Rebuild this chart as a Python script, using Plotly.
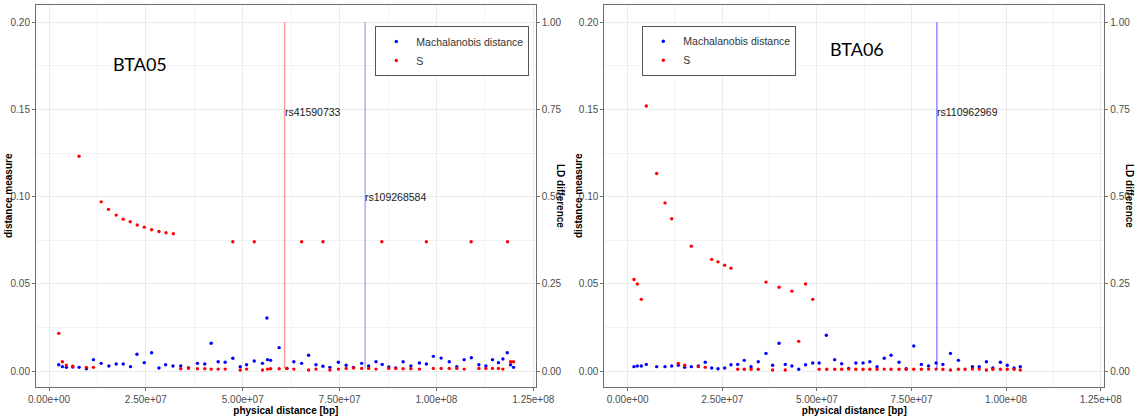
import plotly.graph_objects as go

# ---------------- DATA ----------------
# Panel BTA05
bta05_md_x = [2.51e6, 3.45e6, 4.48e6, 6.13e6, 7.76e6, 9.66e6, 11.47e6, 13.46e6, 15.45e6, 17.34e6,
              19.15e6, 21.04e6, 22.7e6, 24.59e6, 26.48e6, 28.38e6, 30.1e6, 32.0e6, 34.0e6, 36.0e6,
              38.3e6, 40.2e6, 41.85e6, 43.66e6, 45.47e6, 47.44e6, 49.35e6, 51.0e6, 52.97e6, 55.1e6,
              56.24e6, 56.4e6, 57.2e6, 59.4e6, 61.4e6, 63.2e6, 65.2e6, 67.0e6, 68.9e6, 70.7e6,
              72.5e6, 74.7e6, 76.7e6, 78.6e6, 80.7e6, 82.5e6, 84.4e6, 86.0e6, 87.7e6, 89.5e6,
              91.4e6, 93.4e6, 95.6e6, 97.4e6, 99.2e6, 101.2e6, 103.3e6, 105.25e6, 107.15e6, 109.0e6,
              110.95e6, 112.76e6, 114.47e6, 116.0e6, 117.16e6, 118.27e6, 119.13e6, 119.9e6]
bta05_md_y = [0.0036, 0.0025, 0.0021, 0.0023, 0.0021, 0.0013, 0.0065, 0.0044, 0.0029, 0.0040,
              0.0040, 0.0025, 0.0096, 0.0048, 0.0105, 0.0017, 0.0036, 0.0029, 0.0029, 0.0017,
              0.0044, 0.0040, 0.0159, 0.0053, 0.0050, 0.0073, 0.0025, 0.0036, 0.0057, 0.0044,
              0.0304, 0.0065, 0.0061, 0.0134, 0.0015, 0.0053, 0.0044, 0.0090, 0.0036, 0.0027,
              0.0021, 0.0050, 0.0033, 0.0021, 0.0044, 0.0029, 0.0053, 0.0038, 0.0023, 0.0017,
              0.0053, 0.0029, 0.0046, 0.0040, 0.0084, 0.0074, 0.0053, 0.0025, 0.0065, 0.0076,
              0.0036, 0.0029, 0.0065, 0.0048, 0.0069, 0.0105, 0.0036, 0.0021]

bta05_s_x = [2.51e6, 3.45e6, 4.48e6, 6.13e6, 7.76e6, 9.66e6, 11.47e6, 13.46e6, 15.35e6, 17.34e6,
             19.15e6, 20.96e6, 22.77e6, 24.59e6, 26.48e6, 28.38e6, 30.2e6, 32.09e6, 34.0e6, 36.0e6,
             38.3e6, 40.2e6, 41.85e6, 43.66e6, 45.47e6, 47.44e6, 49.35e6, 51.0e6, 52.97e6, 55.1e6,
             56.4e6, 57.2e6, 59.4e6, 61.4e6, 63.2e6, 65.2e6, 67.0e6, 68.9e6, 70.7e6, 72.5e6,
             74.7e6, 76.7e6, 78.6e6, 80.7e6, 82.5e6, 84.4e6, 85.9e6, 87.7e6, 89.5e6, 91.4e6,
             93.4e6, 95.6e6, 97.4e6, 99.2e6, 101.2e6, 103.3e6, 105.25e6, 107.15e6, 108.95e6, 110.95e6,
             112.76e6, 114.47e6, 116.0e6, 117.16e6, 118.35e6, 119.13e6, 119.9e6]
bta05_s_y = [0.0216, 0.0053, 0.0034, 0.0027, 0.1232, 0.0021, 0.0021, 0.0970, 0.0927, 0.0894,
             0.0871, 0.0856, 0.0837, 0.0825, 0.0810, 0.0800, 0.0793, 0.0787, 0.0013, 0.0017,
             0.0013, 0.0013, 0.0011, 0.0011, 0.0011, 0.0741, 0.0006, 0.0011, 0.0741, 0.0006,
             0.0011, 0.0013, 0.0013, 0.0015, 0.0011, 0.0741, 0.0006, 0.0011, 0.0741, 0.0006,
             0.0011, 0.0015, 0.0017, 0.0015, 0.0015, 0.0011, 0.0741, 0.0015, 0.0015, 0.0013,
             0.0013, 0.0011, 0.0741, 0.0015, 0.0015, 0.0015, 0.0015, 0.0011, 0.0741, 0.0015,
             0.0015, 0.0015, 0.0015, 0.0011, 0.0741, 0.0053, 0.0053]

# Panel BTA06
bta06_md_x = [1.66e6, 2.54e6, 3.6e6, 4.92e6, 7.66e6, 9.86e6, 11.63e6, 13.37e6, 15.06e6, 16.81e6,
              18.66e6, 20.5e6, 22.2e6, 23.86e6, 25.63e6, 27.3e6, 29.07e6, 30.8e6, 32.6e6, 34.5e6,
              36.55e6, 38.3e6, 40.0e6, 41.65e6, 43.4e6, 45.2e6, 47.0e6, 48.9e6, 50.6e6, 52.5e6,
              54.7e6, 56.55e6, 58.4e6, 60.3e6, 62.2e6, 64.0e6, 65.9e6, 67.8e6, 69.6e6, 71.7e6,
              73.6e6, 75.6e6, 77.6e6, 79.5e6, 81.5e6, 83.3e6, 85.3e6, 87.4e6, 91.1e6, 92.9e6,
              94.8e6, 96.5e6, 98.5e6, 100.3e6, 102.1e6, 103.75e6]
bta06_md_y = [0.0025, 0.0029, 0.0029, 0.0038, 0.0025, 0.0025, 0.0029, 0.0033, 0.0021, 0.0025,
              0.0029, 0.0050, 0.0017, 0.0013, 0.0017, 0.0036, 0.0038, 0.0061, 0.0025, 0.0053,
              0.0101, 0.0033, 0.0159, 0.0038, 0.0029, 0.0010, 0.0036, 0.0046, 0.0046, 0.0205,
              0.0065, 0.0042, 0.0015, 0.0046, 0.0046, 0.0053, 0.0025, 0.0073, 0.0090, 0.0050,
              0.0013, 0.0143, 0.0038, 0.0029, 0.0046, 0.0038, 0.0101, 0.0061, 0.0025, 0.0025,
              0.0053, 0.0017, 0.0050, 0.0033, 0.0017, 0.0025]

bta06_s_x = [1.66e6, 2.54e6, 3.6e6, 4.92e6, 7.66e6, 9.86e6, 11.63e6, 13.37e6, 15.06e6, 16.81e6,
             18.66e6, 20.5e6, 22.2e6, 23.86e6, 25.63e6, 27.3e6, 29.07e6, 30.8e6, 32.6e6, 34.5e6,
             36.55e6, 38.3e6, 40.0e6, 41.65e6, 43.4e6, 45.2e6, 47.0e6, 48.9e6, 50.6e6, 52.6e6,
             54.7e6, 56.55e6, 58.4e6, 60.3e6, 62.2e6, 64.0e6, 65.9e6, 67.8e6, 69.6e6, 71.7e6,
             73.6e6, 75.6e6, 77.6e6, 79.5e6, 81.5e6, 83.3e6, 85.3e6, 87.4e6, 89.15e6, 91.1e6,
             92.9e6, 94.8e6, 96.5e6, 98.5e6, 100.3e6, 102.1e6, 103.75e6]
bta06_s_y = [0.0525, 0.0499, 0.0411, 0.1520, 0.1133, 0.0964, 0.0873, 0.0044, 0.0033, 0.0716,
             0.0025, 0.0021, 0.0640, 0.0626, 0.0607, 0.0590, 0.0010, 0.0010, 0.0010, 0.0010,
             0.0510, 0.0006, 0.0480, 0.0006, 0.0458, 0.0170, 0.0499, 0.0411, 0.0010, 0.0010,
             0.0010, 0.0010, 0.0011, 0.0010, 0.0010, 0.0010, 0.0010, 0.0011, 0.0010, 0.0010,
             0.0010, 0.0010, 0.0010, 0.0011, 0.0011, 0.0010, 0.0006, 0.0010, 0.0010, 0.0011,
             0.0011, 0.0006, 0.0010, 0.0010, 0.0010, 0.0010, 0.0006]

# Marked SNPs
bta05_snp_pos = [6.08e7, 8.16e7]
bta05_snp_labels = ["rs41590733", "rs109268584"]
bta05_snp_label_y = [0.1487, 0.0998]
bta05_snp_colors = ["rgba(255,0,0,0.38)", "rgba(0,0,255,0.3)"]
bta06_snp_pos = [8.17e7]
bta06_snp_labels = ["rs110962969"]
bta06_snp_label_y = [0.1487]
bta06_snp_colors = ["rgba(0,0,255,0.55)"]
snp_line_ld = [0.0075, 1.0]   # on LD difference scale

x_tick_vals = [0, 2.5e7, 5.0e7, 7.5e7, 1.0e8, 1.25e8]
x_tick_text = ["0.00e+00", "2.50e+07", "5.00e+07", "7.50e+07", "1.00e+08", "1.25e+08"]
y_tick_vals = [0.0, 0.05, 0.10, 0.15, 0.20]
ld_tick_vals = [0.0, 0.25, 0.5, 0.75, 1.0]

panel_names = ["BTA05", "BTA06"]

# ---------------- FIGURE ----------------
W, H = 1136, 418
FONT = "Liberation Sans"
TICK_COL = "#4d4d4d"
GRID = "#ebebeb"
GRID_MINOR = "#f3f3f3"
BORDER = "#6e6e6e"


def px(v):
    return v / W


def py(v):
    return (H - v) / H


fig = go.Figure()

panels = [
    dict(x="x", y="y", y2="y3", md=(bta05_md_x, bta05_md_y), s=(bta05_s_x, bta05_s_y),
         snp=(bta05_snp_pos, bta05_snp_labels, bta05_snp_label_y, bta05_snp_colors), legend="legend"),
    dict(x="x2", y="y2", y2="y4", md=(bta06_md_x, bta06_md_y), s=(bta06_s_x, bta06_s_y),
         snp=(bta06_snp_pos, bta06_snp_labels, bta06_snp_label_y, bta06_snp_colors), legend="legend2"),
]

MS = 3.4
for i, p in enumerate(panels):
    pos, labels, laby, cols = p["snp"]
    for k in range(len(pos)):
        fig.add_trace(go.Scatter(
            x=[pos[k], pos[k]], y=snp_line_ld, mode="lines", xaxis=p["x"], yaxis=p["y2"],
            line=dict(color=cols[k], width=1.6 if i == 0 else 1.2), showlegend=False, hoverinfo="skip"))
    fig.add_trace(go.Scatter(
        x=p["md"][0], y=p["md"][1], mode="markers", name="Machalanobis distance",
        xaxis=p["x"], yaxis=p["y"], marker=dict(color="blue", size=MS), legend=p["legend"]))
    fig.add_trace(go.Scatter(
        x=p["s"][0], y=p["s"][1], mode="markers", name="S",
        xaxis=p["x"], yaxis=p["y"], marker=dict(color="red", size=MS), legend=p["legend"]))
    for k in range(len(pos)):
        fig.add_annotation(x=pos[k], y=laby[k], xref=p["x"], yref=p["y"], text=labels[k],
                           showarrow=False, xanchor="left", yanchor="middle", xshift=-2,
                           font=dict(family=FONT, size=10.5, color="#1a1a1a"))

# panel name labels
fig.add_annotation(x=2.36e7, y=0.176, xref="x", yref="y", text=panel_names[0], showarrow=False,
                   font=dict(family="Lato", size=18, color="black"))
fig.add_annotation(x=6.07e7, y=0.1846, xref="x2", yref="y2", text=panel_names[1], showarrow=False,
                   font=dict(family="Lato", size=18, color="black"))

# axis titles for y (left: reading upward, right: reading downward)
for xp in [8, 578]:
    fig.add_annotation(x=px(xp), y=py(196), xref="paper", yref="paper", text="<b>distance measure</b>",
                       textangle=-90, showarrow=False, xanchor="center", yanchor="middle",
                       font=dict(family=FONT, size=10, color="black"))
for xp in [561, 1130]:
    fig.add_annotation(x=px(xp), y=py(196), xref="paper", yref="paper", text="<b>LD difference</b>",
                       textangle=90, showarrow=False, xanchor="center", yanchor="middle",
                       font=dict(family=FONT, size=10, color="black"))

dom_y = [py(386.7), py(5)]
x_doms = [[px(36), px(535.7)], [px(604.3), px(1104.3)]]
x_ranges = [[-3.36e6, 1.2562e8], [-6.18e6, 1.2595e8]]

tickfont = dict(family=FONT, size=10, color=TICK_COL)
titlefont = dict(family=FONT, size=10, color="black", weight="bold")

layout = dict(
    width=W, height=H, margin=dict(l=0, r=0, t=0, b=0, autoexpand=False),
    paper_bgcolor="white", plot_bgcolor="white", showlegend=True,
    font=dict(family=FONT),
)
for i, (xa, ya, y2a) in enumerate([("xaxis", "yaxis", "yaxis3"), ("xaxis2", "yaxis2", "yaxis4")]):
    xid = "x" if i == 0 else "x2"
    yid = "y" if i == 0 else "y2"
    layout[xa] = dict(
        domain=x_doms[i], anchor=yid, range=x_ranges[i], tickmode="array", automargin=False,
        tickvals=x_tick_vals, ticktext=x_tick_text, tickfont=tickfont,
        ticks="outside", ticklen=3, tickcolor=BORDER, showgrid=True, gridcolor=GRID, gridwidth=1,
        minor=dict(tickmode="linear", tick0=1.25e7, dtick=2.5e7, showgrid=True, gridcolor=GRID_MINOR),
        showline=True, mirror=True, linecolor=BORDER, linewidth=1, zeroline=False,
        title=dict(text="physical distance [bp]", font=titlefont, standoff=2),
    )
    layout[ya] = dict(
        domain=dom_y, anchor=xid, range=[-0.009, 0.2099], tickmode="array", automargin=False,
        tickvals=y_tick_vals, tickformat=".2f", tickfont=tickfont,
        ticks="outside", ticklen=3, tickcolor=BORDER, showgrid=True, gridcolor=GRID,
        minor=dict(tickmode="linear", tick0=0.025, dtick=0.05, showgrid=True, gridcolor=GRID_MINOR),
        showline=True, mirror=True, linecolor=BORDER, linewidth=1, zeroline=False,
    )
    layout[y2a] = dict(
        overlaying=yid, anchor=xid, side="right", range=[-0.045, 1.0495], tickmode="array",
        automargin=False, tickvals=ld_tick_vals, tickformat=".2f", tickfont=tickfont,
        ticks="outside", ticklen=3, tickcolor=BORDER, showgrid=False, zeroline=False, showline=False,
    )

leg_common = dict(bgcolor="white", bordercolor="#555555", borderwidth=1,
                  font=dict(family=FONT, size=10.5, color="#333333"),
                  itemwidth=30, tracegroupgap=0, xanchor="left", yanchor="top")
layout["legend"] = dict(x=px(375.3), y=py(26), **leg_common)
layout["legend2"] = dict(x=px(642.3), y=py(25.7), **leg_common)

fig.update_layout(**layout)
fig.write_html("out.html", config={"displayModeBar": False},
               post_script="document.body.style.margin='0';document.body.style.overflow='hidden';")
